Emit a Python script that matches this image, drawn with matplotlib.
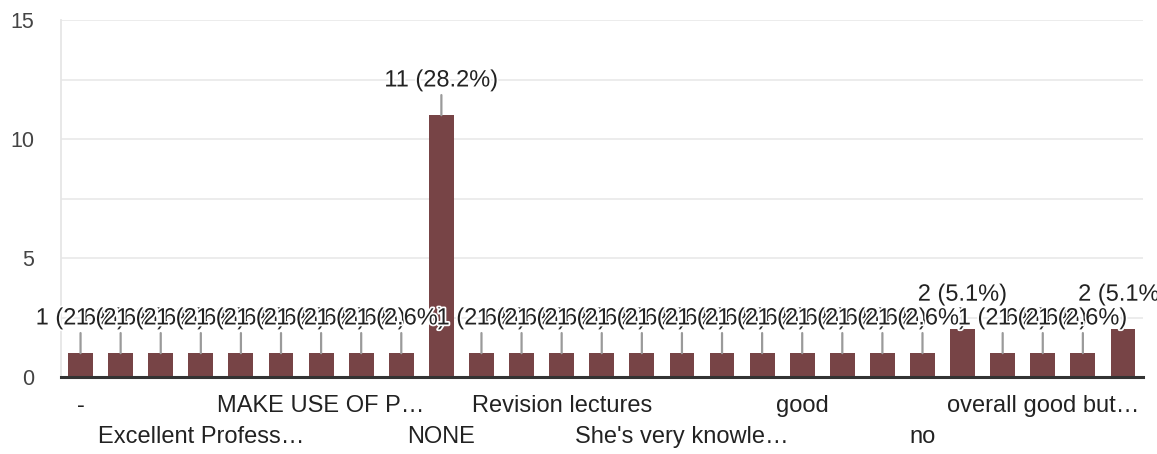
import matplotlib
matplotlib.use('Agg')
import matplotlib.pyplot as plt
import matplotlib.patheffects as pe
from matplotlib.ticker import MultipleLocator

# ---- data ----
values = [1, 1, 1, 1, 1, 1, 1, 1, 1, 11,
          1, 1, 1, 1, 1, 1, 1, 1, 1, 1,
          1, 1, 2, 1, 1, 1, 2]
tick_positions = [0, 3, 6, 9, 12, 15, 18, 21, 24]
tick_labels = ['-', 'Excellent Profess…', 'MAKE USE OF P…', 'NONE',
               'Revision lectures', "She's very knowle…", 'good', 'no',
               'overall good but…']

plt.rcParams['font.family'] = ['Liberation Sans', 'DejaVu Sans']

BAR = '#774446'
W, H = 1157, 454
fig = plt.figure(figsize=(W / 100, H / 100), dpi=100)
ax = fig.add_axes([60.5 / W, 77 / H, (1143 - 60.5) / W, 357 / H])

x = list(range(len(values)))
ax.bar(x, values, width=0.62, color=BAR, zorder=2)
ax.set_xlim(-0.5, len(values) - 0.5)
ax.set_ylim(0, 15)

# grid
ax.yaxis.set_major_locator(MultipleLocator(5))
ax.yaxis.set_minor_locator(MultipleLocator(2.5))
ax.grid(axis='y', which='both', color='#ebebeb', lw=1.3, zorder=0)
ax.set_axisbelow(True)

for s in ['top', 'right']:
    ax.spines[s].set_visible(False)
ax.spines['left'].set_color('#e6e6e6')
ax.spines['left'].set_linewidth(1.3)
ax.spines['bottom'].set_color('#333333')
ax.spines['bottom'].set_linewidth(2.2)
ax.spines['bottom'].set_zorder(5)

ax.tick_params(axis='y', which='both', length=0, labelsize=15.5,
               labelcolor='#444444', pad=19)
ax.tick_params(axis='x', length=0, labelsize=17, labelcolor='#222222')

ax.set_xticks(tick_positions)
ax.set_xticklabels(tick_labels)
fig.canvas.draw()
for i, (tick, lab) in enumerate(zip(ax.xaxis.get_major_ticks(), ax.get_xticklabels())):
    lab.set_verticalalignment('center')
    tick.set_pad(21 if i % 2 == 0 else 43.5)

# data labels
total = sum(values)
for xi, v in zip(x, values):
    ax.annotate('', xy=(xi, v), xytext=(0, 14.5), textcoords='offset points',
                arrowprops=dict(arrowstyle='-', color='#9a9a9a', lw=1.6,
                                shrinkA=0, shrinkB=0), zorder=3,
                annotation_clip=False)
for xi, v in zip(x, values):
    ax.annotate(f'{v} ({v / total * 100:.1f}%)', xy=(xi, v), xytext=(0, 25),
                textcoords='offset points', ha='center', va='center',
                fontsize=17, color='#222222', zorder=4,
                annotation_clip=False,
                path_effects=[pe.withStroke(linewidth=2.5, foreground='white')])

fig.savefig('out.png', dpi=100)
